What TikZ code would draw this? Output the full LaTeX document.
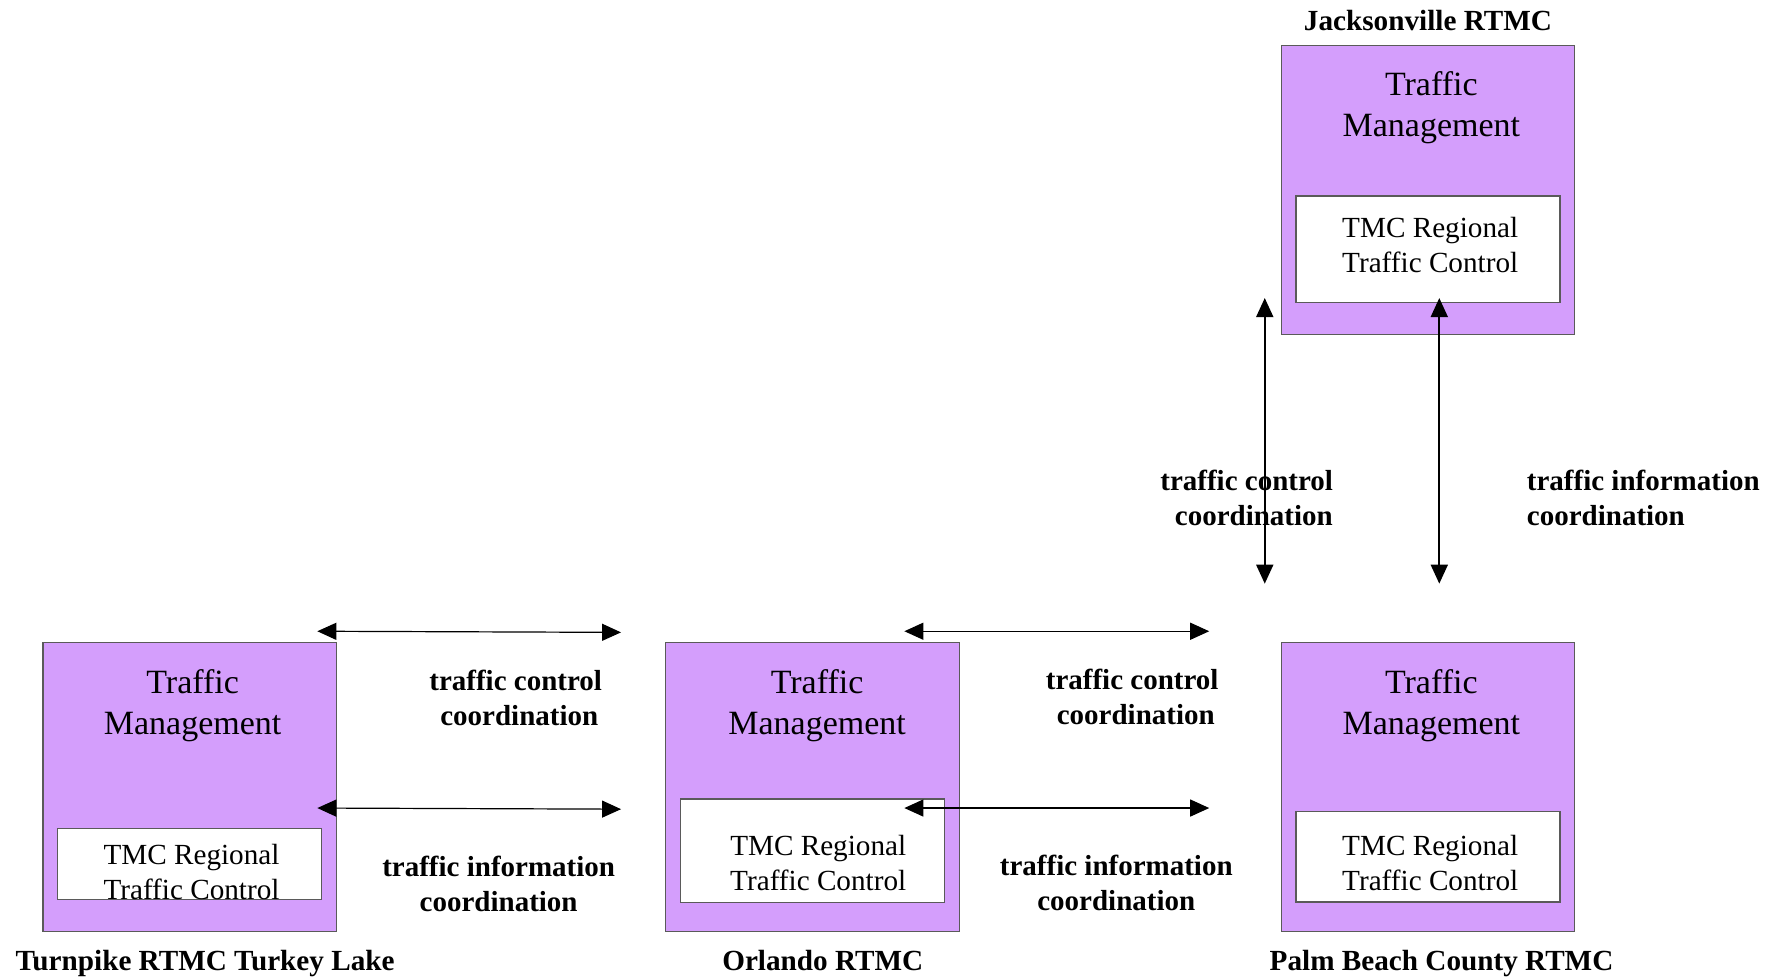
\documentclass[tikz,border=0pt]{standalone}
\usepackage{fontspec}
\setmainfont{Liberation Serif}
\usetikzlibrary{arrows.meta}
\definecolor{tmfill}{RGB}{212,158,252}
\definecolor{tmline}{RGB}{90,90,90}
\tikzset{
  outerbox/.style={draw=tmline, line width=0.6pt, fill=tmfill, minimum width=146.8pt, minimum height=144.5pt, inner sep=0pt},
  innerbox/.style={draw=tmline, line width=0.6pt, fill=white, minimum width=132pt, inner sep=0pt},
  mgmt/.style={align=center, inner sep=0pt, font=\fontsize{17}{20.5}\selectfont},
  tmc/.style={align=center, inner sep=0pt, font=\fontsize{14.6}{17.6}\selectfont},
  lbl/.style={align=center, inner sep=0pt, font=\fontsize{14.5}{17.6}\selectfont\bfseries},
  ttl/.style={inner sep=0pt, anchor=base, font=\fontsize{14.6}{17.6}\selectfont\bfseries},
  dbl/.style={{Triangle[length=9.5pt,width=8.5pt]}-{Triangle[length=9.5pt,width=8.5pt]}, line width=0.6pt},
  dblv/.style={{Triangle[length=9.5pt,width=8.5pt]}-{Triangle[length=9.5pt,width=8.5pt]}, line width=0.9pt}
}
\begin{document}
\begin{tikzpicture}[x=0.5667pt,y=-0.5667pt]
\useasboundingbox[fill=white] (0,0) rectangle (1568,863);

% Jacksonville
\node[ttl] (jxt) at (1260,27) {Jacksonville RTMC};
\node[outerbox] (jx) at (1260,167.5) {};
\node[innerbox, minimum height=53.3pt] (jxin) at (1260,220) {};
\node[mgmt] (jxm) at (1263,95) {Traffic\\Management};
\node[tmc] (jxc) at (1262,216.5) {TMC Regional\\Traffic Control};

% Turnpike
\node[outerbox] (tl) at (167.5,694.5) {};
\node[innerbox, minimum height=35.7pt] (tlin) at (167.5,762.5) {};
\node[mgmt] (tlm) at (170,622.5) {Traffic\\Management};
\node[tmc] (tlc) at (169,769.5) {TMC Regional\\Traffic Control};
\node[ttl] (tlt) at (181,856) {Turnpike RTMC Turkey Lake};

% Orlando
\node[outerbox] (or) at (717,694.5) {};
\node[innerbox, minimum height=51.6pt] (orin) at (717,750.5) {};
\node[mgmt] (orm) at (721,622.5) {Traffic\\Management};
\node[tmc] (orc) at (722,761.5) {TMC Regional\\Traffic Control};
\node[ttl] (ort) at (726,856) {Orlando RTMC};

% Palm Beach
\node[outerbox] (pb) at (1260,694.5) {};
\node[innerbox, minimum height=45.3pt] (pbin) at (1260,756) {};
\node[mgmt] (pbm) at (1263,622.5) {Traffic\\Management};
\node[tmc] (pbc) at (1262,761.5) {TMC Regional\\Traffic Control};
\node[ttl] (pbt) at (1272,856) {Palm Beach County RTMC};

% labels
\node[lbl] (l1) at (455,616) {traffic control\\\ coordination};
\node[lbl] (l2) at (440,780) {traffic information\\coordination};
\node[lbl] (l3) at (999,615) {traffic control\\\ coordination};
\node[lbl] (l4) at (985,779) {traffic information\\coordination};
\node[lbl] (l5) at (1100,439.5) {traffic control\\\ \ coordination};
\node[lbl, align=left, anchor=west] (l6) at (1347,439.5) {traffic information\\coordination};

% arrow end points
\coordinate (a1s) at (280,557); \coordinate (a1e) at (548,558);
\coordinate (a2s) at (280,713); \coordinate (a2e) at (548,714);
\coordinate (a3s) at (798,557); \coordinate (a3e) at (1067,557);
\coordinate (a4s) at (798,713); \coordinate (a4e) at (1067,713);
\coordinate (v1s) at (1116,263); \coordinate (v1e) at (1116,515);
\coordinate (v2s) at (1270,263); \coordinate (v2e) at (1270,515);

\draw[dbl] (a1s) -- (a1e);
\draw[dbl] (a2s) -- (a2e);
\draw[dbl] (a3s) -- (a3e);
\draw[dbl] (a4s) -- (a4e);
\draw[dblv] (v1s) -- (v1e);
\draw[dblv] (v2s) -- (v2e);
\end{tikzpicture}
\end{document}
